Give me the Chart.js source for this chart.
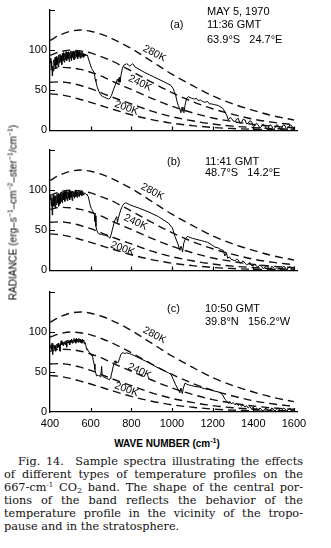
<!DOCTYPE html>
<html>
<head>
<meta charset="utf-8">
<script src="https://cdn.jsdelivr.net/npm/chart.js@4.4.1/dist/chart.umd.min.js"></script>
<style>
  body { margin: 0; background: #fff; }
  #page { position: relative; width: 331px; height: 548px; overflow: hidden; color: #000;
          font-family: "Liberation Sans", Arial, sans-serif; }
  canvas { position: absolute; left: 0; }
  .txt { position: absolute; font-size: 11px; line-height: 13px; white-space: pre; }
  #xtitle { position: absolute; left: 0; width: 334px; top: 437px; text-align: center;
            font-size: 10px; font-weight: bold; line-height: 13px; }
  #ytitle { position: absolute; left: -87px; top: 206px; width: 200px; height: 13px; line-height: 13px;
            font-size: 10px; text-align: center; transform: rotate(-90deg); white-space: nowrap; }
  sup { font-size: 7px; vertical-align: 4px; line-height: 0; }
  sub { font-size: 8px; vertical-align: -2px; line-height: 0; }
  #caption { position: absolute; left: 4px; top: 455px; width: 299px;
             font-family: "DejaVu Serif", serif; font-size: 11.3px; color: #111; }
  .cl { height: 13px; line-height: 13px; text-align: justify; text-align-last: justify; }
  .cl.first { padding-left: 14px; }
  .cl.last { text-align-last: left; }
</style>
</head>
<body>
<div id="page">
  <canvas id="chartA" width="331" height="140" style="top:0px"></canvas>
  <canvas id="chartB" width="331" height="140" style="top:140px"></canvas>
  <canvas id="chartC" width="331" height="150" style="top:280px"></canvas>

  <div class="txt" style="left:207px; top:5px">MAY 5, 1970</div>
  <div class="txt" style="left:170px; top:18px">(a)</div>
  <div class="txt" style="left:207px; top:18px">11:36 GMT</div>
  <div class="txt" style="left:207px; top:33px">63.9°S   24.7°E</div>

  <div class="txt" style="left:167px; top:155px">(b)</div>
  <div class="txt" style="left:205px; top:155px">11:41 GMT</div>
  <div class="txt" style="left:205px; top:166px">48.7°S   14.2°E</div>

  <div class="txt" style="left:167px; top:302px">(c)</div>
  <div class="txt" style="left:205px; top:302px">10:50 GMT</div>
  <div class="txt" style="left:205px; top:315px">39.8°N   156.2°W</div>

  <div id="ytitle">RADIANCE (erg–s<sup>−1</sup>–cm<sup>−2</sup>–ster<sup>−1</sup>/cm<sup>−1</sup>)</div>
  <div id="xtitle">WAVE NUMBER (cm<sup>-1</sup>)</div>

  <div id="caption">
    <div class="cl first">Fig. 14.&nbsp; Sample spectra illustrating the effects</div>
    <div class="cl">of different types of temperature profiles on the</div>
    <div class="cl">667-cm<sup>-1</sup> CO<sub>2</sub> band. The shape of the central por-</div>
    <div class="cl">tions of the band reflects the behavior of the</div>
    <div class="cl">temperature profile in the vicinity of the tropo-</div>
    <div class="cl last">pause and in the stratosphere.</div>
  </div>
</div>

<script>
// axes
const xTicks = [400, 600, 800, 1000, 1200, 1400, 1600];
const yTicks = [0, 50, 100, 150];
const yLabels = [0, 50, 100];

// black body reference curves (radiance read at these wave numbers)
const curveWn = [400, 450, 500, 550, 600, 650, 700, 800, 900, 1000, 1100, 1200, 1300, 1400, 1500, 1600];
const curve280 = [112, 119, 123.5, 125, 123.5, 120, 115, 102, 86, 70, 56, 43, 33, 25, 18, 13];
const curve260 = [93.5, 98, 100, 99, 96.5, 92, 87, 74, 60, 47, 36, 27, 20, 14, 10, 7];
const curve240 = [76, 78.5, 78, 76, 72.5, 68, 62, 51, 40, 30, 22, 15.5, 11, 7.5, 5, 3.3];
const curve220 = [60, 60.5, 59, 56, 52, 47, 42, 33, 24, 17, 12, 8, 5.3, 3.5, 2.2, 1.4];
const curve200 = [45.5, 44.5, 42, 38.5, 35, 31, 27, 19.5, 13.5, 9, 6, 3.7, 2.3, 1.4, 0.8, 0.5];

// measured spectra [wave number, radiance]
const spectrumA = [
  [402,84],[404,90],[406,78],[408,86],[411,68],[413,80],[416,74],[419,88],[422,80],[425,91],[428,77],[431,92],
  [434,82],[437,90],[440,79],[443,94],[446,84],[449,95],[452,86],[455,93],[458,82],[461,96],[464,87],[467,97],
  [470,85],[473,96],[476,88],[479,98],[482,87],[485,97],[488,89],[491,98],[494,86],[497,97],[500,90],[503,99],
  [506,87],[509,98],[512,91],[515,99],[518,88],[521,97],[524,90],[527,99],[530,92],[533,100],[536,89],[539,98],
  [542,92],[545,99],[548,90],[551,97],[554,91],[557,98],[560,92],[563,96],[566,91],[569,95],[572,93],[576,95],
  [580,93],[584,94],[588,90],[597,83],[605,77],[612,74],[618,72],[622,64],[626,61],[630,56],[634,53],[640,49],
  [646,46],[654,43],[662,42],[670,41],[679,40],[687,39],[695,40],[703,44],[711,50],[720,56],[728,62],[732,64],
  [736,60],[740,66],[744,60],[750,70],[756,77],[762,81],[770,82],[777,83],[785,82],[792,80],[798,81],[805,83],
  [811,82],[818,79],[867,72],[916,66],[965,60],[995,56],[1006,52],[1018,44],[1025,36],[1031,31],[1039,27],
  [1044,22],[1047,25],[1050,29],[1054,24],[1059,22],[1064,31],[1072,40],[1080,42],[1097,40],[1110,39],[1120,40],
  [1129,37],[1140,38],[1150,36],[1162,35],[1175,36],[1185,33],[1195,33],[1210,32],[1228,31],[1252,27],[1262,22],
  [1269,19],[1277,13],[1285,16],[1293,15],[1300,12],[1310,11],[1318,14],[1326,15],[1334,9],[1342,10],[1350,14],
  [1359,13],[1367,8],[1375,9],[1383,12],[1391,11],[1400,5],[1408,6],[1416,9],[1424,7],[1432,3],[1441,5],[1449,8],
  [1457,6],[1465,2],[1474,3],[1482,7],[1490,6],[1498,1],[1506,3],[1514,7],[1523,6],[1531,2],[1539,2],[1547,7],
  [1556,6],[1564,1],[1572,3],[1580,7],[1588,6],[1596,2],[1605,4]
];
const spectrumB = [
  [402,88],[404,93],[407,80],[409,90],[411,69],[413,86],[416,94],[419,80],[422,92],[425,78],[428,93],[431,82],
  [434,95],[437,84],[440,96],[443,80],[446,95],[449,83],[452,97],[455,86],[458,98],[461,84],[464,97],[467,88],
  [470,99],[473,86],[476,98],[479,89],[482,99],[485,87],[488,98],[491,90],[494,100],[497,88],[500,99],[503,91],
  [506,98],[509,87],[512,99],[515,92],[518,98],[521,90],[524,100],[527,92],[530,99],[533,91],[536,98],[539,93],
  [542,99],[545,92],[548,98],[551,94],[554,97],[557,93],[560,98],[563,94],[566,97],[570,95],[574,96],[578,95],
  [582,94],[588,92],[597,82],[603,77],[608,75],[615,71],[618,70],[621,61],[623,68],[626,55],[630,50],[638,46],
  [646,45],[654,45],[662,44],[670,44],[679,43],[687,42],[695,40],[700,44],[706,50],[711,55],[716,60],[720,63],
  [728,67],[732,60],[736,65],[744,72],[752,78],[758,81],[764,83],[770,84],[777,84],[790,82],[810,80],[834,78],
  [883,73],[933,67],[982,59],[1002,53],[1015,42],[1028,34],[1039,25],[1044,30],[1048,28],[1052,23],[1058,34],
  [1067,40],[1075,42],[1080,42],[1090,41],[1100,40],[1115,39],[1130,38],[1146,37],[1160,36],[1175,35],[1195,32],
  [1211,29],[1228,28],[1240,26],[1252,25],[1260,18],[1268,22],[1274,15],[1282,17],[1290,14],[1300,13],[1310,12],
  [1318,14],[1326,13],[1334,9],[1342,10],[1350,12],[1359,9],[1367,7],[1375,8],[1383,10],[1391,6],[1400,6],
  [1408,8],[1416,5],[1424,4],[1432,7],[1441,5],[1449,2],[1457,4],[1465,6],[1474,3],[1482,1],[1490,5],[1498,4],
  [1506,1],[1514,3],[1523,5],[1531,2],[1539,1],[1547,5],[1556,4],[1564,1],[1572,3],[1580,5],[1588,2],[1596,4],
  [1605,3]
];
const spectrumC = [
  [401,80],[404,84],[407,78],[410,86],[413,72],[416,82],[419,84],[422,79],[425,83],[428,76],[431,80],[434,85],
  [437,80],[440,86],[443,81],[446,84],[449,76],[452,85],[455,89],[458,84],[461,88],[464,83],[467,87],[470,85],
  [473,88],[476,84],[479,89],[482,81],[485,88],[488,90],[491,86],[494,89],[497,84],[500,90],[503,87],[506,91],
  [509,86],[512,90],[515,87],[518,92],[521,88],[524,91],[527,86],[530,92],[533,88],[536,91],[539,87],[542,92],
  [545,88],[548,91],[551,87],[554,90],[557,86],[560,91],[563,88],[566,90],[569,85],[572,87],[576,84],[580,78],
  [584,79],[588,76],[597,74],[605,70],[609,71],[613,64],[617,60],[621,53],[625,49],[629,45],[634,46],[638,45],
  [642,46],[646,44],[650,45],[654,57],[657,45],[662,44],[670,43],[679,42],[687,41],[692,40],[696,42],[700,45],
  [705,50],[711,57],[716,62],[720,64],[724,61],[730,62],[736,62],[742,67],[749,72],[755,74],[760,74],[768,73],
  [777,74],[790,73],[802,72],[834,68],[883,62],[933,55],[982,49],[995,47],[1006,41],[1018,34],[1031,28],
  [1039,24],[1044,30],[1048,26],[1051,23],[1056,30],[1064,36],[1072,35],[1080,34],[1095,33],[1113,32],[1135,31],
  [1162,29],[1185,28],[1211,26],[1230,25],[1244,23],[1252,20],[1260,16],[1268,14],[1277,11],[1285,13],[1293,10],
  [1300,12],[1310,9],[1318,11],[1326,8],[1334,10],[1342,7],[1350,9],[1359,6],[1367,8],[1375,5],[1383,7],[1391,4],
  [1400,6],[1408,3],[1416,5],[1424,2],[1432,5],[1441,3],[1449,1],[1457,4],[1465,5],[1474,2],[1482,1],[1490,5],
  [1498,4],[1506,1],[1514,3],[1523,5],[1531,2],[1539,1],[1547,5],[1556,4],[1564,1],[1572,3],[1580,5],[1588,2],
  [1596,4],[1605,3]
];

// temperature labels written along the curves: [text, wave number, radiance, angle]
const labelsA = [["280K", 914, 95.7, 28], ["240K", 843, 59, 25], ["200K", 776, 27.8, 20]];
const labelsB = [["280K", 904, 98, 28], ["240K", 821, 60, 25], ["200K", 757, 27, 20]];
const labelsC = [["280K", 914, 96, 28], ["240K", 840, 51, 25], ["200K", 776, 28, 20]];

Chart.defaults.color = '#000';
Chart.defaults.font.family = '"Liberation Sans", Arial, sans-serif';

const panelDecor = {
    id: 'panelDecor',
    afterDatasetsDraw(chart, args, opts) {
        const ctx = chart.ctx;
        const x = chart.scales.x;
        const y = chart.scales.y;
        ctx.save();
        // small inward tick marks
        ctx.strokeStyle = '#000';
        ctx.lineWidth = 1.2;
        ctx.beginPath();
        xTicks.forEach((v) => {
            if (v === xTicks[0]) return;
            const px = Math.round(x.getPixelForValue(v)) + 0.5;
            ctx.moveTo(px, y.bottom);
            ctx.lineTo(px, y.bottom - 4);
        });
        yTicks.forEach((v) => {
            if (v === 0) return;
            const py = Math.round(y.getPixelForValue(v)) + 0.5;
            ctx.moveTo(x.left, py);
            ctx.lineTo(x.left + 5, py);
        });
        ctx.stroke();
        // temperature labels
        ctx.fillStyle = '#000';
        ctx.font = '10.5px "Liberation Sans", Arial, sans-serif';
        ctx.textAlign = 'center';
        ctx.textBaseline = 'middle';
        opts.labels.forEach((l) => {
            ctx.save();
            ctx.translate(x.getPixelForValue(l[1]), y.getPixelForValue(l[2]));
            ctx.rotate(l[3] * Math.PI / 180);
            ctx.fillText(l[0], 0, 0);
            ctx.restore();
        });
        ctx.restore();
    }
};

function dashed(values) {
    return {
        data: curveWn.map((w, i) => ({ x: w, y: values[i] })),
        borderColor: '#111',
        borderWidth: 1.4,
        borderDash: [8, 5],
        cubicInterpolationMode: 'monotone',
        pointRadius: 0,
        fill: false
    };
}

function makePanel(id, spectrum, labels, padTop, xAxisHeight, showXLabels) {
    const datasets = [curve280, curve260, curve240, curve220, curve200].map(dashed);
    datasets.push({
        data: spectrum.map((p) => ({ x: p[0], y: p[1] })),
        borderColor: '#000',
        borderWidth: 1,
        pointRadius: 0,
        tension: 0,
        fill: false
    });

    return new Chart(document.getElementById(id), {
        type: 'line',
        data: { datasets: datasets },
        options: {
            responsive: false,
            animation: false,
            layout: { padding: { top: padTop, right: 34, bottom: 0, left: 0 } },
            plugins: {
                legend: { display: false },
                tooltip: { enabled: false },
                panelDecor: { labels: labels }
            },
            scales: {
                x: {
                    type: 'linear',
                    min: 400,
                    max: 1615,
                    afterBuildTicks: (s) => { s.ticks = xTicks.map((v) => ({ value: v })); },
                    afterFit: (s) => { s.height = xAxisHeight; },
                    grid: { display: false, drawTicks: false },
                    border: { color: '#000', width: 1.3 },
                    ticks: { display: showXLabels, padding: 5, maxRotation: 0, autoSkip: false,
                             font: { size: 11 }, callback: (v) => String(v) }
                },
                y: {
                    min: 0,
                    max: 150,
                    afterBuildTicks: (s) => { s.ticks = yTicks.map((v) => ({ value: v })); },
                    afterFit: (s) => { s.width = 50; },
                    grid: { display: false, drawTicks: false },
                    border: { color: '#000', width: 1.3 },
                    ticks: { padding: 3, font: { size: 11 },
                             callback: (v) => (yLabels.includes(v) ? String(v) : '') }
                }
            }
        },
        plugins: [panelDecor]
    });
}

makePanel('chartA', spectrumA, labelsA, 10, 8, false);
makePanel('chartB', spectrumB, labelsB, 10, 8, false);
makePanel('chartC', spectrumC, labelsC, 12, 18, true);
</script>
</body>
</html>
